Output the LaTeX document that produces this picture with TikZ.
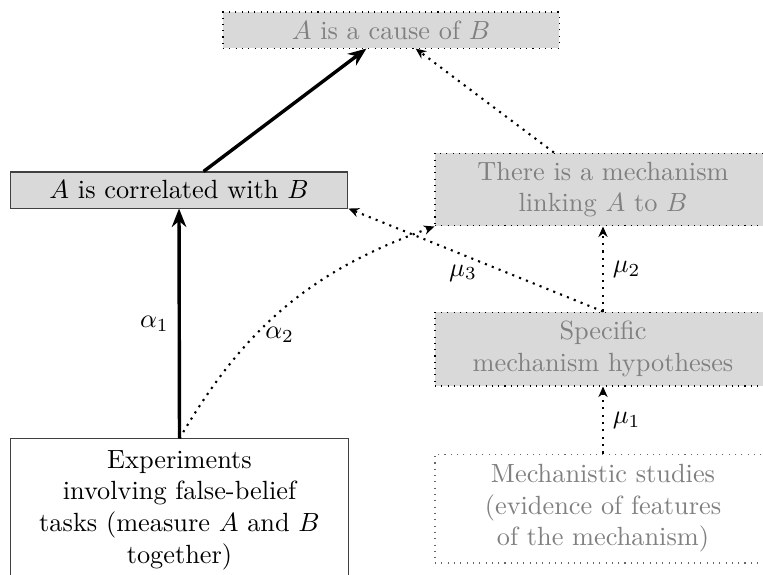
\documentclass[tikz,border=0pt]{standalone}
\usetikzlibrary{arrows.meta}
\begin{document}
\begin{tikzpicture}[x=0.38pt,y=-0.38pt]
\tikzset{
  faded/.style={draw=black, dotted, fill=black!15, text=black!50, align=center, inner sep=0pt, minimum width=127.7pt},
  fadedwhite/.style={draw=black!60, dotted, fill=white, text=black!50, align=center, inner sep=0pt, minimum width=127.7pt},
  plainbox/.style={draw=black!75, fill=black!15, align=center, inner sep=0pt, minimum width=128.4pt},
  whitebox/.style={draw=black!75, fill=white, align=center, inner sep=0pt, minimum width=128.1pt},
  thickarr/.style={line width=1.3pt, -{Stealth[length=7pt,width=5.5pt]}},
  dotarr/.style={thick, dotted, -{Stealth[length=4pt,width=3.5pt]}}
}
\useasboundingbox (0,0) rectangle (763,574);
\node[faded, minimum height=13.7pt] (cause) at (391,30) {$A$ is a cause of $B$};
\node[plainbox, minimum height=13.7pt] (corr) at (179,190) {$A$ is correlated with $B$};
\node[faded, minimum height=27.7pt] (mech) at (603,189.5) {There is a mechanism\\linking $A$ to $B$};
\node[faded, minimum height=28.1pt] (spec) at (603,349) {Specific\\mechanism hypotheses};
\node[fadedwhite, minimum height=41.4pt] (mstud) at (603,508.5) {Mechanistic studies\\(evidence of features\\of the mechanism)};
\node[whitebox, minimum height=54pt] (exp) at (179.5,510) {Experiments\\involving false-belief\\tasks (measure $A$ and $B$\\together)};
\draw[thickarr] (corr) -- (cause);
\draw[dotarr] (mech) -- (cause);
\draw[thickarr] (exp.north) -- node[left]{$\alpha_1$} (corr.south);
\draw[dotarr] (exp.north) to[bend left=20] node[pos=0.37, right]{$\alpha_2$} (mech.south west);
\draw[dotarr] (spec.north) -- node[pos=0.55, below]{$\mu_3$} (corr.south east);
\draw[dotarr] (spec.north) -- node[right]{$\mu_2$} (mech.south);
\draw[dotarr] (mstud.north) -- node[right]{$\mu_1$} (spec.south);
\end{tikzpicture}
\end{document}
